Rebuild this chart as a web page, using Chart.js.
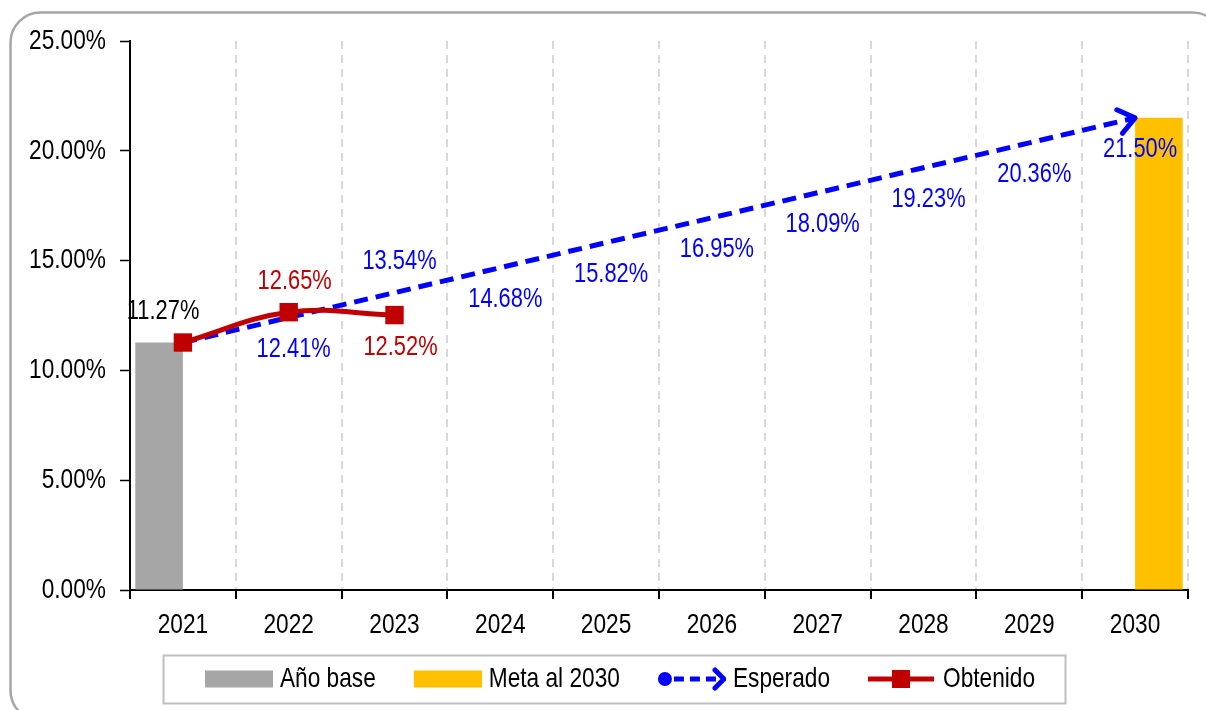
<!DOCTYPE html>
<html lang="es">
<head>
<meta charset="utf-8">
<title>Avance hacia la meta 2030</title>
<script src="https://cdn.jsdelivr.net/npm/chart.js@4.4.0/dist/chart.umd.min.js"></script>
<style>
  html, body { margin: 0; padding: 0; background: #ffffff; }
  #wrap { position: relative; width: 1206px; height: 710px; }
</style>
</head>
<body>
<div id="wrap"><canvas id="chart" width="1206" height="710"></canvas></div>
<script>
/* ---- datos ---- */
const years = ['2021', '2022', '2023', '2024', '2025', '2026', '2027', '2028', '2029', '2030'];
const baseYear = [11.27, null, null, null, null, null, null, null, null, null];
const goal2030 = [null, null, null, null, null, null, null, null, null, 21.50];
const expected = [11.27, 12.41, 13.54, 14.68, 15.82, 16.95, 18.09, 19.23, 20.36, 21.50];
const obtained = [11.27, 12.65, 12.52, null, null, null, null, null, null, null];
const yTicks = [0, 5, 10, 15, 20, 25];

const FONT = "'Liberation Sans', Arial, sans-serif";
const GREY = '#a6a6a6';
const GOLD = '#ffc000';
const BLUE = '#0000ff';
const RED = '#c00000';
const NARROW = 0.81;     // no hay Arial Narrow: se comprime el texto a lo ancho
const LEGEND_PAD = 10;
const LEGEND_CENTER = 620;

function pct(v) {
    return v.toFixed(2) + '%';
}

const canvas = document.getElementById('chart');
const ctx2d = canvas.getContext('2d');
const baseFillText = ctx2d.fillText;
const baseMeasureText = ctx2d.measureText;
ctx2d.fillText = function (text, x, y) {
    this.save();
    this.translate(x, y);
    this.scale(NARROW, 1);
    baseFillText.call(this, text, 0, 0);
    this.restore();
};
ctx2d.measureText = function (text) {
    const m = baseMeasureText.call(this, text);
    return {
        width: m.width * NARROW,
        actualBoundingBoxAscent: m.actualBoundingBoxAscent,
        actualBoundingBoxDescent: m.actualBoundingBoxDescent,
        actualBoundingBoxLeft: m.actualBoundingBoxLeft * NARROW,
        actualBoundingBoxRight: m.actualBoundingBoxRight * NARROW
    };
};

// simbolos de la leyenda (parte visible a la derecha, margen transparente a la izquierda)
function makeSwatch(kind) {
    const c = document.createElement('canvas');
    c.width = 103;
    c.height = 24;
    const g = c.getContext('2d');
    g.translate(35, 0);
    if (kind === 'base' || kind === 'goal') {
        g.fillStyle = kind === 'base' ? GREY : GOLD;
        g.fillRect(0, 3.5, 68, 17);
    } else if (kind === 'expected') {
        g.fillStyle = BLUE;
        g.strokeStyle = BLUE;
        g.beginPath();
        g.arc(7, 12, 7, 0, Math.PI * 2);
        g.fill();
        g.lineWidth = 5;
        g.setLineDash([10, 6]);
        g.beginPath();
        g.moveTo(16, 12);
        g.lineTo(62, 12);
        g.stroke();
        g.setLineDash([]);
        g.lineCap = 'round';
        g.lineJoin = 'round';
        g.beginPath();
        g.moveTo(57, 3);
        g.lineTo(66, 12);
        g.lineTo(57, 21);
        g.stroke();
    } else {
        g.strokeStyle = RED;
        g.fillStyle = RED;
        g.lineWidth = 5;
        g.beginPath();
        g.moveTo(0, 12);
        g.lineTo(66, 12);
        g.stroke();
        g.fillRect(24, 3, 18, 18);
    }
    return c;
}
const swatches = [makeSwatch('base'), makeSwatch('goal'), makeSwatch('expected'), makeSwatch('obtained')];

function legendContent(lg) {
    const lw = lg.lineWidths[0];
    const x0 = (lg.left + LEGEND_PAD + lg.right - lw) / 2;
    return { start: x0 + 28, end: x0 + lw - LEGEND_PAD };
}

const frame = {
    id: 'frame',
    beforeDraw(chart) {
        const ctx = chart.ctx;
        ctx.save();
        ctx.strokeStyle = '#a6a6a6';
        ctx.lineWidth = 2.5;
        ctx.beginPath();
        ctx.roundRect(10.5, 12.5, 1212, 708, 30);
        ctx.stroke();
        ctx.restore();
    },
    afterLayout(chart) {
        const lg = chart.legend;
        const c = legendContent(lg);
        const shift = LEGEND_CENTER - (c.start + c.end) / 2;
        lg.left += shift;
        lg.right += shift;
    },
    afterDraw(chart) {
        const lg = chart.legend;
        const c = legendContent(lg);
        const ctx = chart.ctx;
        ctx.save();
        ctx.strokeStyle = '#bfbfbf';
        ctx.lineWidth = 2;
        ctx.strokeRect(Math.round(c.start - 42) + 0.5, Math.round(lg.top) + 0.5,
            Math.round(c.end - c.start + 72), Math.round(lg.bottom - lg.top));
        ctx.restore();
    }
};

const arrowHead = {
    id: 'arrowHead',
    afterDatasetsDraw(chart) {
        const pts = chart.getDatasetMeta(2).data;
        const p1 = pts[pts.length - 1];
        const p0 = pts[pts.length - 2];
        const a = Math.atan2(p1.y - p0.y, p1.x - p0.x);
        const len = 20;
        const spread = 0.65;
        const ctx = chart.ctx;
        ctx.save();
        ctx.strokeStyle = BLUE;
        ctx.lineWidth = 5;
        ctx.lineCap = 'round';
        ctx.lineJoin = 'round';
        ctx.beginPath();
        ctx.moveTo(p1.x - len * Math.cos(a - spread), p1.y - len * Math.sin(a - spread));
        ctx.lineTo(p1.x, p1.y);
        ctx.lineTo(p1.x - len * Math.cos(a + spread), p1.y - len * Math.sin(a + spread));
        ctx.stroke();
        ctx.restore();
    }
};

const valueLabels = {
    id: 'valueLabels',
    afterDatasetsDraw(chart) {
        const ctx = chart.ctx;
        ctx.save();
        ctx.font = '27px ' + FONT;
        ctx.textAlign = 'center';
        ctx.textBaseline = 'middle';
        chart.data.datasets.forEach((ds, di) => {
            if (!ds.labelAt) return;
            const meta = chart.getDatasetMeta(di);
            meta.data.forEach((el, i) => {
                const where = ds.labelAt[i];
                const v = ds.data[i];
                if (!where || v == null) return;
                const y = where === 'above' ? el.y - 31 : el.y + 32;
                ctx.fillStyle = ds.labelColor;
                ctx.fillText(pct(v), el.x + (ds.labelDx || 0), y);
            });
        });
        ctx.restore();
    }
};

Chart.defaults.font.family = FONT;
Chart.defaults.color = '#000000';

new Chart(canvas, {
    type: 'bar',
    data: {
        labels: years,
        datasets: [
            {
                label: 'Año base',
                data: baseYear,
                backgroundColor: GREY,
                barPercentage: 1,
                categoryPercentage: 0.9,
                order: 3,
                labelAt: ['above'],
                labelColor: '#000000',
                labelDx: 4
            },
            {
                label: 'Meta al 2030',
                data: goal2030,
                backgroundColor: GOLD,
                barPercentage: 1,
                categoryPercentage: 0.9,
                order: 3
            },
            {
                type: 'line',
                label: 'Esperado',
                data: expected,
                borderColor: BLUE,
                backgroundColor: BLUE,
                borderWidth: 5,
                borderDash: [14, 8],
                tension: 0,
                pointRadius: [6, 0, 0, 0, 0, 0, 0, 0, 0, 0],
                pointHoverRadius: 0,
                order: 2,
                labelAt: [null, 'below', 'above', 'below', 'below', 'below', 'below', 'below', 'below', 'below'],
                labelColor: BLUE,
                labelDx: 5
            },
            {
                type: 'line',
                label: 'Obtenido',
                data: obtained,
                borderColor: RED,
                backgroundColor: RED,
                borderWidth: 5,
                tension: 0.4,
                pointStyle: 'rect',
                pointRadius: 13,
                pointBorderWidth: 0,
                order: 1,
                labelAt: [null, 'above', 'below'],
                labelColor: RED,
                labelDx: 6
            }
        ]
    },
    options: {
        responsive: false,
        animation: false,
        layout: { padding: { left: 10, right: 18, top: 41, bottom: 7 } },
        scales: {
            x: {
                offset: true,
                afterFit(scale) { scale.height = 65; },
                grid: {
                    offset: true,
                    color: (c) => (c.index === 0 ? 'rgba(0,0,0,0)' : '#d9d9d9'),
                    lineWidth: 2,
                    tickColor: '#000000',
                    tickWidth: 2,
                    tickLength: 9,
                    tickBorderDash: []
                },
                border: { display: true, color: '#000000', width: 2, dash: [8, 6] },
                ticks: { font: { size: 28 }, padding: 9, color: '#000000' }
            },
            y: {
                min: 0,
                max: 25,
                afterFit(scale) { scale.width = 120; },
                afterBuildTicks(scale) { scale.ticks = yTicks.map(v => ({ value: v })); },
                grid: {
                    drawOnChartArea: false,
                    drawTicks: true,
                    tickLength: 10,
                    tickColor: '#000000',
                    tickWidth: 1.5
                },
                border: { display: true, color: '#000000', width: 2 },
                ticks: {
                    font: { size: 28 },
                    padding: 14,
                    color: '#000000',
                    callback: (v) => pct(v)
                }
            }
        },
        plugins: {
            tooltip: { enabled: false },
            legend: {
                position: 'bottom',
                labels: {
                    usePointStyle: true,
                    pointStyleWidth: 89,
                    padding: LEGEND_PAD,
                    font: { size: 28 },
                    color: '#000000',
                    sort: (a, b) => a.datasetIndex - b.datasetIndex,
                    generateLabels(chart) {
                        const items = Chart.defaults.plugins.legend.labels.generateLabels(chart);
                        items.forEach((it) => { it.pointStyle = swatches[it.datasetIndex]; });
                        return items;
                    }
                }
            }
        }
    },
    plugins: [frame, arrowHead, valueLabels]
});
</script>
</body>
</html>
